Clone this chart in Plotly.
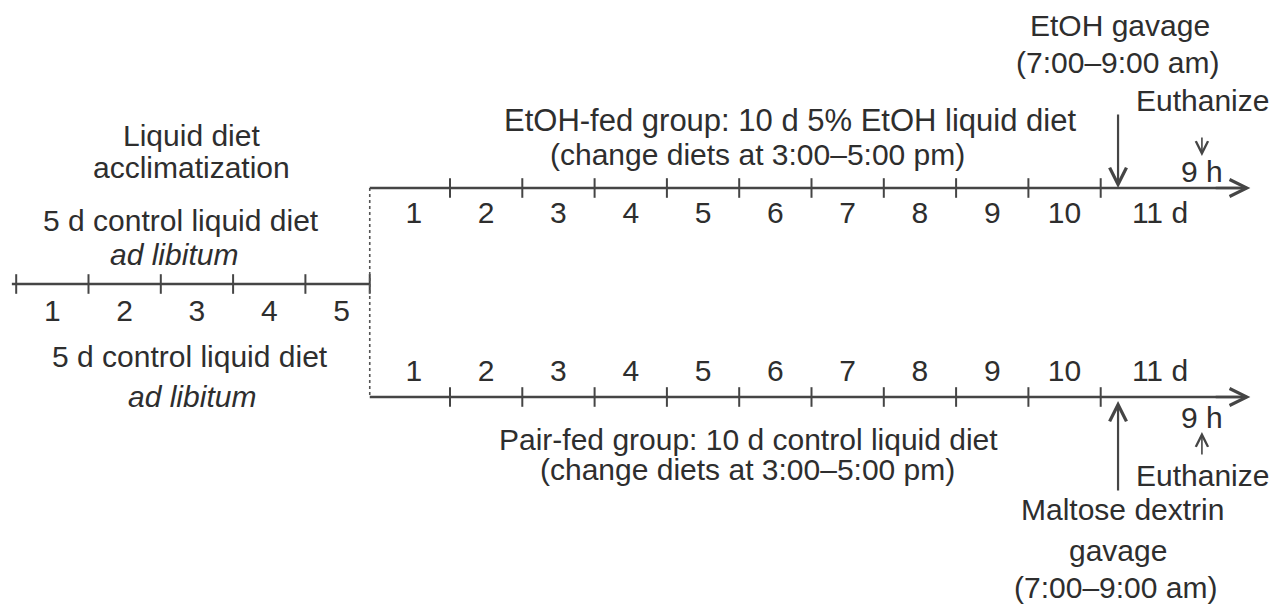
import plotly.graph_objects as go

# ---------------- data ----------------
acclim_days = [1, 2, 3, 4, 5]                 # acclimatization days
treat_days = [1, 2, 3, 4, 5, 6, 7, 8, 9, 10]  # treatment days
final_day_label = "11 d"
gavage_day = 10.24      # gavage event position (day units)
euthanize_day = 11.40   # euthanize event position (day units)

# ---------------- layout constants ----------------
W, H = 1283, 605
PX_PER_DAY = 72.3
X0_PX = 377.7           # pixel position of day 0 on x axis
JUNCTION = -0.11        # branching point
LEFT_START = -5.06
ARROW_END = 12.07
Y_LEFT, Y_TOP, Y_BOT = 284, 188, 397
LINE_C = "#454545"
TEXT_C = "#2e2e2e"
FONT = "Liberation Sans, Arial, Helvetica, sans-serif"
FS = 30


def X(px):
    return (px - X0_PX) / PX_PER_DAY


fig = go.Figure()

tick_marker = dict(symbol="line-ns-open", size=14, color=LINE_C,
                   line=dict(color=LINE_C, width=2))

# left (acclimatization) timeline
fig.add_trace(go.Scatter(x=[LEFT_START, JUNCTION], y=[Y_LEFT, Y_LEFT], mode="lines",
                         line=dict(color=LINE_C, width=2.6), hoverinfo="skip"))
left_ticks = [d - len(acclim_days) for d in [0] + acclim_days[:-1]] + [JUNCTION]
fig.add_trace(go.Scatter(x=left_ticks, y=[Y_LEFT] * len(left_ticks), mode="markers",
                         marker=tick_marker, hoverinfo="skip"))

# dotted branch connector
fig.add_trace(go.Scatter(x=[JUNCTION, JUNCTION], y=[Y_TOP, Y_BOT], mode="lines",
                         line=dict(color="#555555", width=1.6, dash="dot"),
                         hoverinfo="skip"))

# top and bottom timelines
for yy in (Y_TOP, Y_BOT):
    fig.add_trace(go.Scatter(x=[JUNCTION, ARROW_END - 0.05], y=[yy, yy], mode="lines",
                             line=dict(color=LINE_C, width=2.6), hoverinfo="skip"))
    fig.add_trace(go.Scatter(x=treat_days, y=[yy] * len(treat_days), mode="markers",
                             marker=tick_marker, hoverinfo="skip"))
    fig.add_annotation(x=ARROW_END, y=yy, ax=ARROW_END - 0.5, ay=yy, xref="x", yref="y",
                       axref="x", ayref="y", text="", showarrow=True, arrowhead=5,
                       arrowsize=1.4, arrowwidth=2.4, arrowcolor=LINE_C)

# day number labels
fig.add_trace(go.Scatter(x=[d - 5.5 for d in acclim_days], y=[313] * len(acclim_days),
                         mode="text", text=[str(d) for d in acclim_days],
                         textfont=dict(family=FONT, size=FS, color=TEXT_C),
                         hoverinfo="skip"))
for yy in (215, 373):
    fig.add_trace(go.Scatter(x=[d - 0.5 for d in treat_days] + [X(1160)],
                             y=[yy] * (len(treat_days) + 1), mode="text",
                             text=[str(d) for d in treat_days] + [final_day_label],
                             textfont=dict(family=FONT, size=FS, color=TEXT_C),
                             hoverinfo="skip"))

# event arrows
fig.add_annotation(x=gavage_day, y=Y_TOP, ax=gavage_day, ay=113, xref="x", yref="y",
                   axref="x", ayref="y", text="", showarrow=True, arrowhead=5,
                   arrowsize=1.5, arrowwidth=2.2, arrowcolor=LINE_C)
fig.add_annotation(x=gavage_day, y=Y_BOT + 4, ax=gavage_day, ay=492, xref="x", yref="y",
                   axref="x", ayref="y", text="", showarrow=True, arrowhead=5,
                   arrowsize=1.5, arrowwidth=2.2, arrowcolor=LINE_C)
fig.add_annotation(x=euthanize_day, y=156, ax=euthanize_day, ay=136, xref="x", yref="y",
                   axref="x", ayref="y", text="", showarrow=True, arrowhead=5,
                   arrowsize=1.5, arrowwidth=1.6, arrowcolor=LINE_C)
fig.add_annotation(x=euthanize_day, y=432, ax=euthanize_day, ay=456, xref="x", yref="y",
                   axref="x", ayref="y", text="", showarrow=True, arrowhead=5,
                   arrowsize=1.5, arrowwidth=1.6, arrowcolor=LINE_C)

# text labels (text, x px, y px, font size)
labels = [
    ("EtOH gavage", 1120, 25, FS),
    ("(7:00–9:00 am)", 1117, 62, FS),
    ("Euthanize", 1202, 100, FS),
    ("9 h", 1202, 171, FS),
    ("EtOH-fed group: 10 d 5% EtOH liquid diet", 790, 120, 31),
    ("(change diets at 3:00–5:00 pm)", 757, 154, FS),
    ("Liquid diet", 191, 135, FS),
    ("acclimatization", 191, 167, FS),
    ("5 d control liquid diet", 181, 220, FS),
    ("<i>ad libitum</i>", 174, 254, FS),
    ("5 d control liquid diet", 190, 356, FS),
    ("<i>ad libitum</i>", 192, 396, FS),
    ("9 h", 1202, 417, FS),
    ("Pair-fed group: 10 d control liquid diet", 748, 439, FS),
    ("(change diets at 3:00–5:00 pm)", 747, 469, FS),
    ("Euthanize", 1202, 475, FS),
    ("Maltose dextrin", 1122, 509, FS),
    ("gavage", 1118, 550, FS),
    ("(7:00–9:00 am)", 1115, 587, FS),
]
for t, px, py, fs in labels:
    fig.add_annotation(x=X(px), y=py, xref="x", yref="y", text=t, showarrow=False,
                       xanchor="center", yanchor="middle",
                       font=dict(family=FONT, size=fs, color=TEXT_C))

fig.update_layout(
    width=W, height=H, margin=dict(l=0, r=0, t=0, b=0),
    paper_bgcolor="white", plot_bgcolor="white", showlegend=False,
    xaxis=dict(range=[X(0), X(W)], visible=False, fixedrange=True),
    yaxis=dict(range=[H, 0], visible=False, fixedrange=True),
)

fig.write_html("out.html", config={"displayModeBar": False},
               post_script="document.body.style.margin='0';document.body.style.overflow='hidden';")
